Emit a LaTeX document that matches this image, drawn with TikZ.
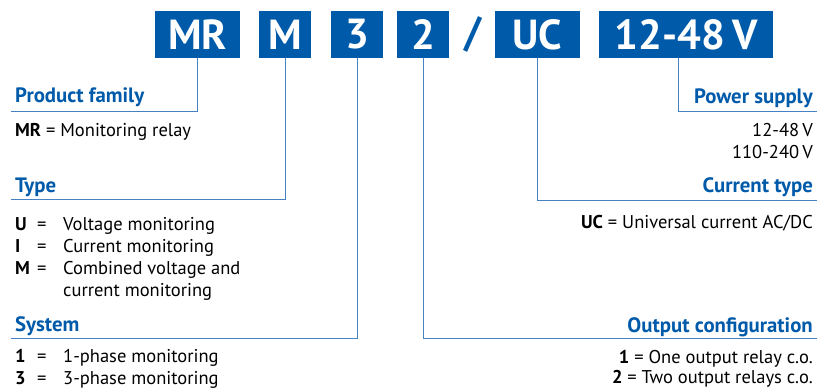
\documentclass[tikz,border=0pt]{standalone}
\usepackage{fontspec}
\setmainfont{PT Sans}
\usetikzlibrary{positioning}
\definecolor{bb}{RGB}{0, 90, 170}
\definecolor{ll}{RGB}{70, 130, 195}

\begin{document}
\begin{tikzpicture}[
  code/.style={fill=bb, text=white, font=\bfseries\fontsize{42}{42}\selectfont, minimum height=47pt, inner sep=0pt},
  head/.style={text=bb, font=\bfseries\fontsize{20.8}{22}\selectfont, inner sep=0pt},
  desc/.style={font=\fontsize{18.5}{22}\selectfont, inner sep=0pt},
  conn/.style={draw=ll, line width=1pt}]
\useasboundingbox (0pt, 0pt) rectangle (828pt, -388pt);
% code boxes
\node (mr) [code, minimum width=85pt] at (197.5pt, -34.5pt) {MR};
\node (m) [code, minimum width=52pt] at (285pt, -34.5pt) {M};
\node (three) [code, minimum width=52pt] at (357pt, -34.5pt) {3};
\node (two) [code, minimum width=52pt] at (423pt, -34.5pt) {2};
\node (sl) [code, fill=none, text=bb] at (473pt, -34.5pt) {/};
\node (uc) [code, minimum width=85pt] at (537.5pt, -34.5pt) {UC};
\node (volt) [code, minimum width=174pt] at (686pt, -34.5pt) {12-48\,V};
% line ends
\coordinate (pf) at (11pt, -111pt);
\coordinate (ty) at (11pt, -199pt);
\coordinate (sy) at (11pt, -338pt);
\coordinate (ps) at (817pt, -111pt);
\coordinate (ct) at (817pt, -200pt);
\coordinate (oc) at (817pt, -338pt);
\draw [conn] (mr.south) |- (pf);
\draw [conn] (m.south) |- (ty);
\draw [conn] (three.south) |- (sy);
\draw [conn] (two.south) |- (oc);
\draw [conn] (uc.south) |- (ct);
\draw [conn] ([xshift=-8pt]volt.south) |- (ps);
% left side
\node (pfh) [head, anchor=base west] at (15pt, -102pt) {Product family};
\node (pfd) [desc, anchor=base west] at (15pt, -136pt) {\textbf{MR} = Monitoring relay};
\node (tyh) [head, anchor=base west] at (15pt, -192pt) {Type};
\node (tyd) [desc, anchor=base west] at (15pt, -230pt) {\begin{tabular}[t]{@{}p{22pt}@{}p{26pt}@{}l@{}}
  \textbf{U} & = & Voltage monitoring\\
  \textbf{I} & = & Current monitoring\\
  \textbf{M} & = & Combined voltage and\\
             &   & current monitoring
  \end{tabular}};
\node (syh) [head, anchor=base west] at (15pt, -331pt) {System};
\node (syd) [desc, anchor=base west] at (15pt, -362pt) {\begin{tabular}[t]{@{}p{22pt}@{}p{26pt}@{}l@{}}
  \textbf{1} & = & 1-phase monitoring\\
  \textbf{3} & = & 3-phase monitoring
  \end{tabular}};
% right side
\node (psh) [head, anchor=base east] at (813pt, -103pt) {Power supply};
\node (psd) [desc, anchor=base east, align=right] at (813pt, -158pt) {12-48\,V\\110-240\,V};
\node (cth) [head, anchor=base east] at (813pt, -192pt) {Current type};
\node (ctd) [desc, anchor=base east] at (813pt, -228pt) {\textbf{UC} = Universal current AC/DC};
\node (och) [head, anchor=base east] at (813pt, -332pt) {Output configuration};
\node (ocd) [desc, anchor=base east, align=right, font=\fontsize{18.5}{20}\selectfont] at (813pt, -383pt) {\textbf{1} = One output relay c.o.\\\textbf{2} = Two output relays c.o.};
\end{tikzpicture}
\end{document}
